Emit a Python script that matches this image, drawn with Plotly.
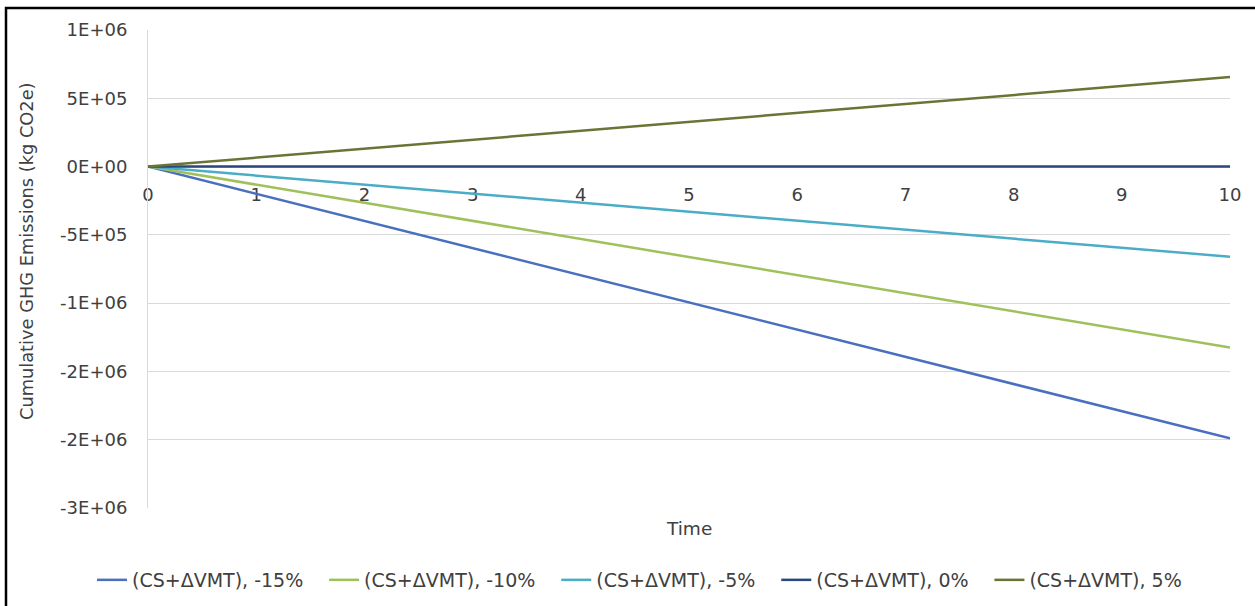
import plotly.graph_objects as go

# ---- data ----
years = [0, 1, 2, 3, 4, 5, 6, 7, 8, 9, 10]
series_names = ["(CS+ΔVMT), -15%", "(CS+ΔVMT), -10%", "(CS+ΔVMT), -5%",
                "(CS+ΔVMT), 0%", "(CS+ΔVMT), 5%"]
minus15 = [0, -199000, -398000, -597000, -796000, -995000, -1194000, -1393000, -1592000, -1791000, -1990000]
minus10 = [0, -132500, -265000, -397500, -530000, -662500, -795000, -927500, -1060000, -1192500, -1325000]
minus5 = [0, -66000, -132000, -198000, -264000, -330000, -396000, -462000, -528000, -594000, -660000]
zero = [0, 0, 0, 0, 0, 0, 0, 0, 0, 0, 0]
plus5 = [0, 65500, 131000, 196500, 262000, 327500, 393000, 458500, 524000, 589500, 655000]
series_values = [minus15, minus10, minus5, zero, plus5]

y_tickvals = [1000000, 500000, 0, -500000, -1000000, -1500000, -2000000, -2500000]
y_ticktext = ["1E+06", "5E+05", "0E+00", "-5E+05", "-1E+06", "-2E+06", "-2E+06", "-3E+06"]
x_tickvals = years
x_ticktext = [str(v) for v in years]

colors = ["#4a6fbe", "#9fc05a", "#4bacc6", "#29477c", "#6b7436"]

FONT = "DejaVu Sans"
W, H = 1255, 606
L, R, T, B = 148, 25, 30, 98
PW, PH = W - L - R, H - T - B
LEGEND_PAD = "\u00a0\u00a0\u2009"

def px_x(p):
    return (p - L) / PW

def px_y(p):
    return (H - B - p) / PH

fig = go.Figure()
for name, vals, col in zip(series_names, series_values, colors):
    fig.add_trace(go.Scatter(x=years, y=vals, mode="lines", name=name + LEGEND_PAD,
                             line=dict(color=col, width=2.5)))

ymin, ymax = -2500000, 1000000
fig.update_layout(
    width=W, height=H,
    margin=dict(l=L, r=R, t=T, b=B, autoexpand=False),
    paper_bgcolor="white", plot_bgcolor="white",
    font=dict(family=FONT, size=17, color="#404040"),
    showlegend=True,
    legend=dict(orientation="h", x=px_x(92), xanchor="left",
                y=px_y(580), yanchor="middle",
                font=dict(family=FONT, size=19, color="#404040"),
                itemwidth=30, traceorder="normal"),
    xaxis=dict(range=[0, 10], tickvals=x_tickvals, ticktext=x_ticktext,
               anchor="free", position=(0 - ymin) / (ymax - ymin),
               showgrid=False, zeroline=False, showline=True,
               linecolor="#d9d9d9", linewidth=1, ticks="",
               layer="below traces", ticklabelstandoff=12,
               tickfont=dict(family=FONT, size=18, color="#404040")),
    yaxis=dict(range=[ymin, ymax], tickvals=y_tickvals, ticktext=y_ticktext,
               showgrid=True, gridcolor="#d9d9d9", gridwidth=1,
               zeroline=False, showline=True, linecolor="#d9d9d9",
               linewidth=1, ticks="", ticklabelstandoff=16,
               tickfont=dict(family=FONT, size=18, color="#404040")),
    annotations=[
        dict(text="Time", xref="paper", yref="paper", x=0.5, y=px_y(528),
             xanchor="center", yanchor="middle", showarrow=False,
             font=dict(family=FONT, size=18.5, color="#404040")),
        dict(text="Cumulative GHG Emissions (kg CO2e)", xref="paper", yref="paper",
             x=px_x(27), y=px_y(251), xanchor="center", yanchor="middle",
             textangle=-90, showarrow=False,
             font=dict(family=FONT, size=17.8, color="#404040")),
    ],
    shapes=[
        dict(type="rect", xref="paper", yref="paper",
             x0=px_x(6), x1=px_x(W + 10), y0=px_y(H + 10), y1=px_y(8),
             line=dict(color="black", width=2.5), layer="above"),
    ],
)

fig.write_html("out.html", config={"displayModeBar": False},
               post_script="document.body.style.margin='0px';")
